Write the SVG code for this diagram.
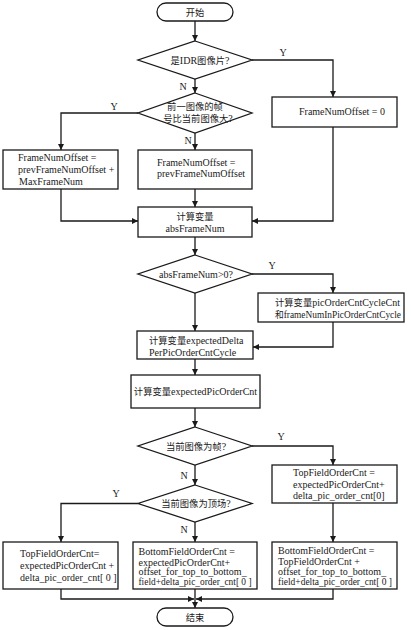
<svg xmlns="http://www.w3.org/2000/svg" width="411" height="630" viewBox="0 0 411 630">
<defs>
<marker id="ah" viewBox="0 0 10 10" refX="10" refY="5" markerWidth="6" markerHeight="6" markerUnits="userSpaceOnUse" orient="auto">
<path d="M0,0 L10,5 L0,10 z" fill="#1a1a1a"/>
</marker>
</defs>
<style>
.n{fill:#fff;stroke:#1a1a1a;stroke-width:1.3}
.c{fill:none;stroke:#1a1a1a;stroke-width:1.3;marker-end:url(#ah)}
text{font-family:"Liberation Serif","Noto Sans CJK SC",serif;font-size:10px;fill:#1a1a1a}
.k{font-size:9.3px}
.m{text-anchor:middle}
</style>
<rect width="411" height="630" fill="#fff"/>
<g id="connectors">
<line class="c" x1="195" y1="21" x2="195" y2="41"/>
<polyline class="c" points="252,60 333,60 333,97"/>
<line class="c" x1="195" y1="79" x2="195" y2="93"/>
<polyline class="c" points="138,113 61,113 61,150"/>
<line class="c" x1="195" y1="133" x2="195" y2="150"/>
<line class="c" x1="195" y1="189" x2="195" y2="207"/>
<polyline class="c" points="61,189 61,221 138,221"/>
<polyline class="c" points="333,127 333,221 252,221"/>
<line class="c" x1="195" y1="237" x2="195" y2="255"/>
<polyline class="c" points="252,274 333,274 333,293"/>
<polyline class="c" points="333,322 333,347 253,347"/>
<line class="c" x1="195" y1="293" x2="195" y2="331"/>
<line class="c" x1="195" y1="359" x2="195" y2="375"/>
<line class="c" x1="195" y1="408" x2="195" y2="427"/>
<polyline class="c" points="252,446 333,446 333,465"/>
<line class="c" x1="333" y1="503" x2="333" y2="542"/>
<line class="c" x1="195" y1="465" x2="195" y2="485"/>
<polyline class="c" points="138,503.5 61,503.5 61,542"/>
<line class="c" x1="195" y1="522" x2="195" y2="542"/>
<polyline class="c" points="61,589 61,599 194,599"/>
<polyline class="c" points="333,589 333,599 196,599"/>
<line class="c" x1="195" y1="589" x2="195" y2="608"/>
<text x="283" y="56" class="m">Y</text>
<text x="183" y="90" class="m">N</text>
<text x="114" y="110" class="m">Y</text>
<text x="188" y="144" class="m">N</text>
<text x="272" y="269" class="m">Y</text>
<text x="281" y="440" class="m">Y</text>
<text x="184" y="479" class="m">N</text>
<text x="116" y="497" class="m">Y</text>
<text x="184" y="533" class="m">N</text>
</g>
<g id="start">
<rect class="n" x="157" y="3" width="76" height="18" rx="9"/>
<text x="195" y="15.5" class="m k">开始</text>
</g>
<g id="isIDR">
<polygon class="n" points="195,41 252,60 195,79 138,60"/>
<text x="200" y="64" class="m"><tspan class="k">是</tspan>IDR<tspan class="k">图像片</tspan>?</text>
</g>
<g id="frameNumOffset0">
<rect class="n" x="272" y="97" width="125" height="30"/>
<text x="299" y="115">FrameNumOffset = 0</text>
</g>
<g id="prevLarger">
<polygon class="n" points="195,93 252,113 195,133 138,113"/>
<text x="195" y="110" class="m k">前一图像的帧</text>
<text x="198" y="122" class="m"><tspan class="k">号比当前图像大</tspan>?</text>
</g>
<g id="offsetPlusMax">
<rect class="n" x="3" y="150" width="115" height="39"/>
<text x="18" y="160.5">FrameNumOffset =</text>
<text x="18" y="172.5">prevFrameNumOffset +</text>
<text x="19" y="184.5">MaxFrameNum</text>
</g>
<g id="offsetPrev">
<rect class="n" x="138" y="150" width="114" height="39"/>
<text x="157" y="166">FrameNumOffset =</text>
<text x="157" y="177">prevFrameNumOffset</text>
</g>
<g id="calcAbsFrameNum">
<rect class="n" x="138" y="207" width="114" height="30"/>
<text x="195" y="219.5" class="m k">计算变量</text>
<text x="195" y="231.5" class="m">absFrameNum</text>
</g>
<g id="absPositive">
<polygon class="n" points="195,255 252,274 195,293 138,274"/>
<text x="196" y="277.5" class="m">absFrameNum&gt;0?</text>
</g>
<g id="calcCycle">
<rect class="n" x="258" y="293" width="146" height="29"/>
<text x="275" y="306"><tspan class="k">计算变量</tspan>picOrderCntCycleCnt</text>
<text x="275" y="318" textLength="126" lengthAdjust="spacingAndGlyphs"><tspan class="k">和</tspan>frameNumInPicOrderCntCycle</text>
</g>
<g id="calcDelta">
<rect class="n" x="137" y="331" width="116" height="28"/>
<text x="149" y="344"><tspan class="k">计算变量</tspan>expectedDelta</text>
<text x="149" y="356">PerPicOrderCntCycle</text>
</g>
<g id="calcExpected">
<rect class="n" x="131" y="375" width="129" height="33"/>
<text x="195.5" y="395" class="m"><tspan class="k">计算变量</tspan>expectedPicOrderCnt</text>
</g>
<g id="isFrame">
<polygon class="n" points="195,427 252,446 195,465 138,446"/>
<text x="196" y="449.5" class="m"><tspan class="k">当前图像为帧</tspan>?</text>
</g>
<g id="topFrame">
<rect class="n" x="272" y="465" width="125" height="38"/>
<text x="293" y="476">TopFieldOrderCnt =</text>
<text x="293" y="487.5">expectedPicOrderCnt+</text>
<text x="293" y="499">delta_pic_order_cnt[0]</text>
</g>
<g id="isTop">
<polygon class="n" points="195,485 252,503.5 195,522 138,503.5"/>
<text x="196" y="507" class="m"><tspan class="k">当前图像为顶场</tspan>?</text>
</g>
<g id="topField">
<rect class="n" x="3" y="542" width="115" height="47"/>
<text x="20" y="556.5">TopFieldOrderCnt=</text>
<text x="20" y="568.5">expectedPicOrderCnt +</text>
<text x="20" y="580.5">delta_pic_order_cnt[ 0 ]</text>
</g>
<g id="bottomField">
<rect class="n" x="133" y="542" width="124" height="47"/>
<text x="138.5" y="555">BottomFieldOrderCnt =</text>
<text x="138.5" y="565.5">expectedPicOrderCnt+</text>
<text x="138.5" y="575">offset_for_top_to_bottom_</text>
<text x="138.5" y="585" textLength="113" lengthAdjust="spacingAndGlyphs">field+delta_pic_order_cnt[ 0 ]</text>
</g>
<g id="bottomFrame">
<rect class="n" x="272" y="542" width="125" height="47"/>
<text x="278" y="554">BottomFieldOrderCnt =</text>
<text x="278" y="564.5">TopFieldOrderCnt +</text>
<text x="278" y="575">offset_for_top_to_bottom_</text>
<text x="278" y="585" textLength="114" lengthAdjust="spacingAndGlyphs">field+delta_pic_order_cnt[ 0 ]</text>
</g>
<g id="end">
<rect class="n" x="157" y="608" width="76" height="18" rx="9"/>
<text x="195" y="620.5" class="m k">结束</text>
</g>
</svg>
